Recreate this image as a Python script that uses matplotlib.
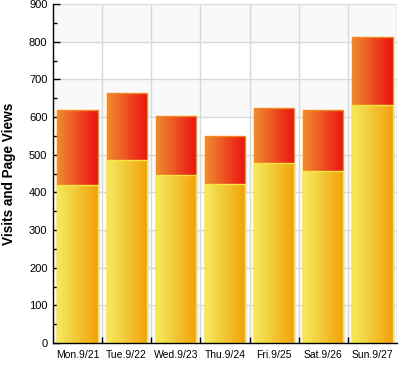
import matplotlib.pyplot as plt
import numpy as np
from matplotlib.colors import LinearSegmentedColormap
from matplotlib.ticker import MultipleLocator

plt.rcParams["font.family"] = ["Liberation Sans", "DejaVu Sans"]

# --- data ---
days = ["Mon.9/21", "Tue.9/22", "Wed.9/23", "Thu.9/24", "Fri.9/25", "Sat.9/26", "Sun.9/27"]
visits = [420, 485, 446, 422, 478, 457, 632]
page_views = [618, 665, 602, 550, 624, 618, 812]

YMAX = 900
BAR_WIDTH = 0.82

red_cmap = LinearSegmentedColormap.from_list("red", ["#ee8c30", "#ec1212"])
yel_cmap = LinearSegmentedColormap.from_list("yel", ["#f2ec5e", "#f4a00a"])


def gradient_fill(ax, bars, cmap):
    grad = np.linspace(0, 1, 64).reshape(1, -1)
    for b in bars:
        x0, y0 = b.get_x(), b.get_y()
        w, h = b.get_width(), b.get_height()
        im = ax.imshow(grad, cmap=cmap, aspect="auto", interpolation="bilinear",
                       extent=(x0, x0 + w, y0, y0 + h), zorder=b.get_zorder() - 0.1)
        im.set_clip_path(b)


fig = plt.figure(figsize=(3.99, 3.68), dpi=100)
ax = fig.add_axes([53 / 399, 25 / 368, 344 / 399, 339 / 368])

x = np.arange(len(days))

# alternating background bands
for lo in range(0, YMAX, 100):
    if (YMAX - lo) // 100 % 2 == 1:
        ax.axhspan(lo, lo + 100, color="#f9f9f9", zorder=0, lw=0)

red = ax.bar(x, page_views, BAR_WIDTH, facecolor="none", edgecolor="#f08a20",
             linewidth=1.0, zorder=3)
gradient_fill(ax, red, red_cmap)
yel = ax.bar(x, visits, BAR_WIDTH, facecolor="none", edgecolor="#f8e640",
             linewidth=1.0, zorder=4)
gradient_fill(ax, yel, yel_cmap)

ax.set_xlim(-0.5, len(days) - 0.5)
ax.set_ylim(0, YMAX)

# grid
for y in range(100, YMAX + 1, 100):
    ax.axhline(y, color="#d9d9d9", lw=1, zorder=1)
for xb in np.arange(0.5, len(days), 1.0):
    ax.axvline(xb, color="#d9d9d9", lw=1, zorder=1)
ax.axvline(len(days) - 0.5, color="#d9d9d9", lw=1, zorder=1)

ax.yaxis.set_major_locator(MultipleLocator(100))
ax.yaxis.set_minor_locator(MultipleLocator(50))
ax.set_xticks(x)
ax.set_xticklabels(days, fontsize=7.5)
ax.tick_params(axis="x", length=0, pad=5)
ax.set_xticks(np.arange(0.5, len(days) - 1, 1.0), minor=True)
ax.tick_params(axis="x", which="minor", direction="in", length=4, width=1)
ax.tick_params(axis="y", which="major", direction="in", length=5, width=1, labelsize=8, pad=4)
ax.tick_params(axis="y", which="minor", direction="in", length=3, width=1)

ax.set_ylabel("Visits and Page Views", fontsize=9.8, fontweight="bold", labelpad=9)

for s in ("top", "right"):
    ax.spines[s].set_visible(False)
for s in ("left", "bottom"):
    ax.spines[s].set_color("black")
    ax.spines[s].set_linewidth(1)
    ax.spines[s].set_zorder(6)

fig.savefig("out.png", dpi=100)
